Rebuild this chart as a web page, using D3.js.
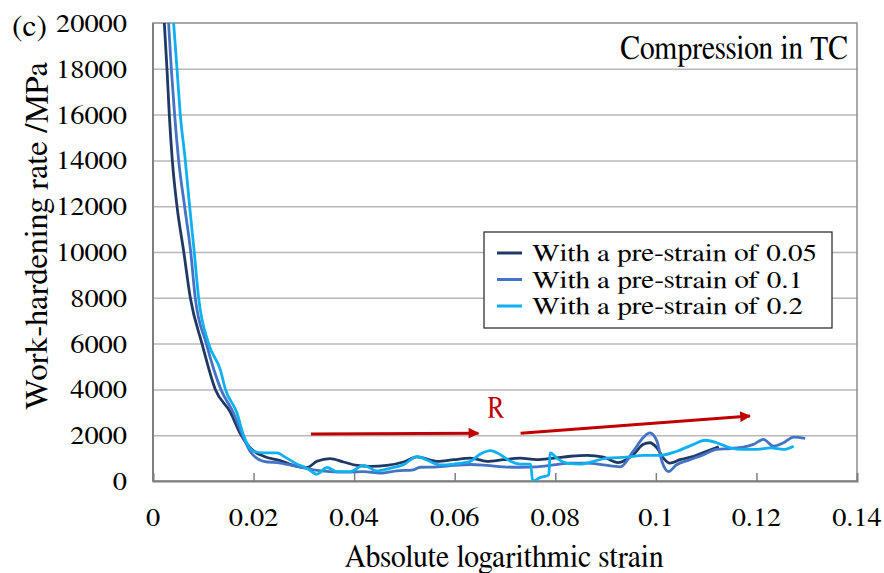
<!DOCTYPE html>
<html>
<head>
<meta charset="utf-8">
<script src="https://cdn.jsdelivr.net/npm/d3@7"></script>
<style>
  body { margin: 0; background: #fff; }
</style>
</head>
<body>
<svg id="chart"></svg>
<script>
// [absolute log strain, work-hardening rate (MPa)]
const preStrain005 = [
  [0.00225,20000],[0.00278,18000],[0.00324,16000],[0.00384,14000],[0.00477,12000],
  [0.00612,10000],[0.00742,8000],[0.00974,6000],[0.01239,4000],[0.0154,3000],
  [0.0174,2050],[0.0193,1450],[0.0220,1080],[0.0253,890],[0.0286,640],[0.0306,590],
  [0.0326,860],[0.0352,980],[0.0379,830],[0.0406,680],[0.0432,640],[0.0465,680],
  [0.0498,830],[0.0525,1050],[0.0565,860],[0.0598,930],[0.0631,1000],[0.0664,860],
  [0.0697,930],[0.0730,1000],[0.0763,930],[0.0797,1000],[0.0830,1080],[0.0863,1120],
  [0.0896,1040],[0.0925,800],[0.0955,1150],[0.0975,1600],[0.0988,1670],[0.1002,1450],
  [0.1015,1000],[0.1028,780],[0.1048,930],[0.1075,1080],[0.1101,1300],[0.1125,1500]
];
const preStrain01 = [
  [0.0031,20000],[0.00364,18000],[0.0043,16000],[0.0051,14000],[0.00628,12000],
  [0.0075,10000],[0.0084,8000],[0.0106,6000],[0.0135,4000],[0.0160,2970],
  [0.0178,2000],[0.0193,1300],[0.0220,860],[0.0253,780],[0.0286,640],[0.0319,490],
  [0.0352,410],[0.0386,385],[0.0419,410],[0.0452,340],[0.0485,440],[0.0518,490],
  [0.0531,600],[0.0565,620],[0.0598,680],[0.0631,720],[0.0664,680],[0.0697,620],
  [0.0730,600],[0.0763,620],[0.0797,700],[0.0830,780],[0.0863,780],[0.0896,700],
  [0.0929,620],[0.0955,1300],[0.0975,1900],[0.0988,2100],[0.1002,1750],[0.1012,860],
  [0.1025,410],[0.1041,710],[0.1068,930],[0.1095,1150],[0.1121,1380],[0.1148,1420],
  [0.1174,1480],[0.1194,1600],[0.1214,1820],[0.1234,1520],[0.1254,1670],[0.1274,1920],
  [0.1297,1860]
];
const preStrain02 = [
  [0.0041,20000],[0.00477,18000],[0.00543,16000],[0.00642,14000],[0.00728,12000],
  [0.0082,10000],[0.00907,8000],[0.01105,6000],[0.0134,4850],[0.0144,4000],
  [0.0167,2970],[0.0180,2000],[0.0200,1300],[0.0220,1230],[0.0246,1230],[0.0266,1000],
  [0.0286,740],[0.0306,560],[0.0326,300],[0.0346,590],[0.0366,410],[0.0392,410],
  [0.0419,680],[0.0445,440],[0.0472,560],[0.0498,710],[0.0525,1060],[0.0571,700],
  [0.0598,740],[0.0631,860],[0.0651,1180],[0.0671,1330],[0.0691,1150],[0.0711,860],
  [0.0730,740],[0.0751,740],[0.0755,0],[0.0770,150],[0.0787,270],[0.0790,1230],
  [0.0803,1000],[0.0823,780],[0.0850,740],[0.0876,860],[0.0903,1000],[0.0942,1040],
  [0.0975,1120],[0.1009,1120],[0.1042,1300],[0.1075,1600],[0.1098,1780],[0.1121,1670],
  [0.1148,1450],[0.1174,1380],[0.1201,1380],[0.1228,1450],[0.1254,1380],[0.1274,1520]
];
const seriesNames = ['With a pre-strain of 0.05', 'With a pre-strain of 0.1', 'With a pre-strain of 0.2'];
const xTicks = [0, 0.02, 0.04, 0.06, 0.08, 0.1, 0.12, 0.14];
const yTicks = [0, 2000, 4000, 6000, 8000, 10000, 12000, 14000, 16000, 18000, 20000];
// trend arrows and their label, in data units
const trendArrows = [[[0.0314, 2050], [0.0647, 2090]], [[0.0731, 2090], [0.1187, 2840]]];
const trendLabel = {text: 'R', strain: 0.0682, rate: 2795};

// FreeSerif is the Times-like face that actually renders here
const SERIF = 'FreeSerif, serif';

class HardeningChart {
  constructor(_config, _data) {
    this.config = {
      parentElement: _config.parentElement,
      containerWidth: _config.containerWidth || 884,
      containerHeight: _config.containerHeight || 573,
      margin: {top: 23, right: 27, bottom: 92, left: 153}
    };
    this.data = _data;
    this.initVis();
  }

  initVis() {
    let vis = this;
    const m = vis.config.margin;
    vis.width = vis.config.containerWidth - m.left - m.right;
    vis.height = vis.config.containerHeight - m.top - m.bottom;

    vis.svg = d3.select(vis.config.parentElement)
      .attr('width', vis.config.containerWidth)
      .attr('height', vis.config.containerHeight);

    vis.chart = vis.svg.append('g')
      .attr('transform', `translate(${m.left},${m.top})`);

    vis.xScale = d3.scaleLinear().domain([0, 0.14]).range([0, vis.width]);
    vis.yScale = d3.scaleLinear().domain([0, 20000]).range([vis.height, 0]);

    vis.colors = ['#1f3864', '#4472c4', '#0fb0f0'];

    vis.svg.append('defs').append('clipPath').attr('id', 'plot-clip')
      .append('rect').attr('width', vis.width).attr('height', vis.height);

    vis.svg.select('defs').append('marker')
      .attr('id', 'arrow-head')
      .attr('viewBox', '0 0 10 10')
      .attr('refX', 9).attr('refY', 5)
      .attr('markerWidth', 4.5).attr('markerHeight', 3.6)
      .attr('markerUnits', 'strokeWidth')
      .attr('orient', 'auto')
      .append('path').attr('d', 'M0,0 L10,5 L0,10 Z').attr('fill', '#c00000');

    vis.renderVis();
  }

  // text squeezed/stretched to the width it has in the figure (len), plus optional vertical stretch
  label(g, x, y, str, size, anchor, len, sy, rot) {
    return g.append('text')
      .attr('transform', `translate(${x},${y})${rot ? ` rotate(${rot})` : ''} scale(1,${sy || 1})`)
      .attr('text-anchor', anchor || 'start')
      .attr('font-family', SERIF)
      .attr('font-size', size)
      .attr('fill', '#000')
      .attr('textLength', len)
      .attr('lengthAdjust', 'spacingAndGlyphs')
      .text(str);
  }

  renderVis() {
    let vis = this;

    // gridlines
    vis.chart.append('g')
      .attr('class', 'grid')
      .call(d3.axisLeft(vis.yScale).tickValues(yTicks.slice(1, -1)).tickSize(-vis.width).tickFormat(''))
      .call(g => g.select('.domain').remove())
      .selectAll('line').attr('stroke', '#b8b8b8').attr('stroke-width', 1.5);

    // plot frame
    vis.chart.append('rect')
      .attr('width', vis.width).attr('height', vis.height)
      .attr('fill', 'none').attr('stroke', '#8c8c8c').attr('stroke-width', 1.5);

    // x axis with small inside ticks
    vis.chart.append('g')
      .attr('transform', `translate(0,${vis.height})`)
      .call(d3.axisTop(vis.xScale).tickValues(xTicks.slice(1, -1)).tickSize(8).tickFormat(''))
      .call(g => g.select('.domain').attr('stroke', '#7f7f7f').attr('stroke-width', 2))
      .selectAll('line').attr('stroke', '#7f7f7f').attr('stroke-width', 1.5);

    vis.chart.append('line')
      .attr('y2', vis.height).attr('stroke', '#7f7f7f').attr('stroke-width', 2);

    // tick labels: digits ~14px wide, decimal point ~7px, as in the figure
    const numWidth = s => s.replace('.', '').length * 14.2 + (s.includes('.') ? 7 : 0);
    xTicks.forEach(t => vis.label(vis.chart, vis.xScale(t), vis.height + 45, String(t), 25, 'middle', numWidth(String(t))));
    yTicks.forEach(t => vis.label(vis.chart, -26, vis.yScale(t) + 9, String(t), 26, 'end', numWidth(String(t))));

    // curves
    const line = d3.line()
      .x(d => vis.xScale(d[0]))
      .y(d => vis.yScale(d[1]))
      .curve(d3.curveMonotoneX);

    vis.chart.append('g')
      .attr('clip-path', 'url(#plot-clip)')
      .selectAll('.series')
      .data(vis.data)
      .join('path')
      .attr('class', 'series')
      .attr('fill', 'none')
      .attr('stroke', (d, i) => vis.colors[i])
      .attr('stroke-width', 2.8)
      .attr('stroke-linejoin', 'round')
      .attr('d', line);

    // red trend arrows
    vis.chart.selectAll('.trend')
      .data(trendArrows)
      .join('line')
      .attr('class', 'trend')
      .attr('x1', d => vis.xScale(d[0][0])).attr('y1', d => vis.yScale(d[0][1]))
      .attr('x2', d => vis.xScale(d[1][0])).attr('y2', d => vis.yScale(d[1][1]))
      .attr('stroke', '#c00000').attr('stroke-width', 3)
      .attr('marker-end', 'url(#arrow-head)');

    vis.label(vis.chart, vis.xScale(trendLabel.strain), vis.yScale(trendLabel.rate), trendLabel.text, 27,
      'middle', 17, 1.15).attr('fill', '#c00000');

    // panel label and condition
    vis.label(vis.svg, 12, 36, '(c)', 31, 'start', 35);
    vis.label(vis.chart, vis.width - 9, 36, 'Compression in TC', 29, 'end', 228, 1.17);

    // axis titles
    vis.label(vis.svg, 504, 567, 'Absolute logarithmic strain', 29.5, 'middle', 319, 1.1);
    vis.label(vis.svg, 47, 236, 'Work-hardening rate /MPa', 32, 'middle', 348, 1, -90);

    // legend
    const legend = vis.svg.append('g').attr('transform', 'translate(484,232)');
    legend.append('rect')
      .attr('width', 348).attr('height', 96)
      .attr('fill', '#fff').attr('stroke', '#222').attr('stroke-width', 1.2);
    const legendWidths = [285, 271, 271];
    seriesNames.forEach((name, i) => {
      const cy = 21 + i * 26.5;
      legend.append('line')
        .attr('x1', 13).attr('x2', 38).attr('y1', cy).attr('y2', cy)
        .attr('stroke', vis.colors[i]).attr('stroke-width', 3);
      vis.label(legend, 48, cy + 8, name, 24.5, 'start', legendWidths[i]);
    });
  }
}

new HardeningChart({parentElement: '#chart'}, [preStrain005, preStrain01, preStrain02]);
</script>
</body>
</html>
